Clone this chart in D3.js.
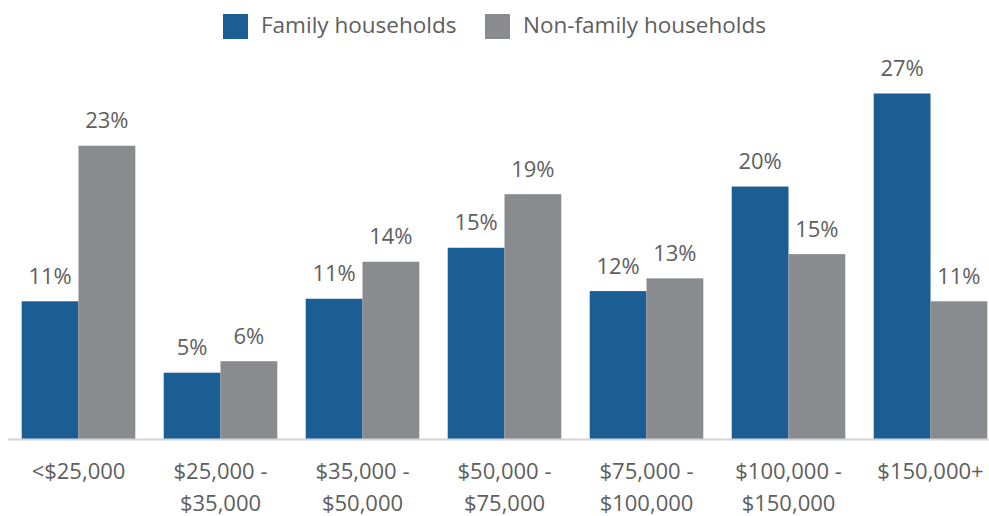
<!DOCTYPE html>
<html>
<head>
<meta charset="utf-8">
<script src="https://cdn.jsdelivr.net/npm/d3@7"></script>
<style>
    html, body { margin: 0; padding: 0; background: #fff; }
    svg { display: block; font-family: "Open Sans", sans-serif; }
</style>
</head>
<body>
<svg id="chart" width="989" height="516"></svg>
<script>
// income brackets (lines split on \n)
var categories = ['<$25,000', '$25,000 -\n$35,000', '$35,000 -\n$50,000', '$50,000 -\n$75,000',
    '$75,000 -\n$100,000', '$100,000 -\n$150,000', '$150,000+'];
var seriesNames = ['Family households', 'Non-family households'];
var familyValues = [10.8, 5.2, 11.0, 15.0, 11.6, 19.8, 27.1];
var nonFamilyValues = [23.0, 6.1, 13.9, 19.2, 12.6, 14.5, 10.8];
var colors = ['#1b5e94', '#898b8e'];

var svg = d3.select('#chart');
var baseline = 439;
var textColor = '#5e5e5e';

var x0 = d3.scaleBand()
    .domain(categories)
    .range([7.5, 1001.5])
    .paddingInner(0.2)
    .paddingOuter(0.1);

var x1 = d3.scaleBand()
    .domain(seriesNames)
    .range([0, x0.bandwidth()]);

var y = d3.scaleLinear()
    .domain([0, 30])
    .range([baseline, baseline - 382.5]);

var color = d3.scaleOrdinal().domain(seriesNames).range(colors);

var rows = categories.map(function (c, i) {
    return { cat: c, values: [
        { key: seriesNames[0], value: familyValues[i] },
        { key: seriesNames[1], value: nonFamilyValues[i] }
    ] };
});

var groups = svg.append('g').selectAll('g.group')
    .data(rows)
    .enter().append('g')
    .attr('class', 'group')
    .attr('transform', function (d) { return 'translate(' + x0(d.cat) + ',0)'; });

groups.selectAll('rect')
    .data(function (d) { return d.values; })
    .enter().append('rect')
    .attr('x', function (d) { return x1(d.key); })
    .attr('y', function (d) { return y(d.value); })
    .attr('width', x1.bandwidth())
    .attr('height', function (d) { return y(0) - y(d.value); })
    .style('fill', function (d) { return color(d.key); });

groups.selectAll('text.val')
    .data(function (d) { return d.values; })
    .enter().append('text')
    .attr('class', 'val')
    .attr('x', function (d) { return x1(d.key) + x1.bandwidth() / 2; })
    .attr('y', function (d) { return y(d.value) - 17.5; })
    .style('text-anchor', 'middle')
    .style('font-size', '22px')
    .style('fill', textColor)
    .text(function (d) { return Math.round(d.value) + '%'; });

// category axis
var xAxis = svg.append('g')
    .attr('transform', 'translate(0,' + baseline + ')')
    .call(d3.axisBottom(x0).tickSize(0).tickPadding(0));

xAxis.select('.domain')
    .attr('d', 'M8,0.5H989')
    .style('stroke', '#d4d4d4')
    .style('stroke-width', 2);

xAxis.selectAll('.tick text')
    .style('font-size', '22px')
    .style('font-family', '"Open Sans", sans-serif')
    .style('fill', textColor)
    .attr('y', 0)
    .attr('dy', null)
    .each(function (d) {
        var t = d3.select(this);
        var lines = d.split('\n');
        t.text(null);
        lines.forEach(function (line, i) {
            t.append('tspan')
                .attr('x', 0)
                .attr('y', 40 + i * 31.5)
                .text(line);
        });
    });

// legend
var legend = svg.append('g').selectAll('g.legend')
    .data(seriesNames)
    .enter().append('g')
    .attr('class', 'legend')
    .attr('transform', function (d, i) { return 'translate(' + [223, 485][i] + ',14)'; });

legend.append('rect')
    .attr('width', 25)
    .attr('height', 25)
    .style('fill', function (d) { return color(d); });

legend.append('text')
    .attr('x', 38)
    .attr('y', 19)
    .style('font-size', '22.5px')
    .style('fill', textColor)
    .text(function (d) { return d; });
</script>
</body>
</html>
